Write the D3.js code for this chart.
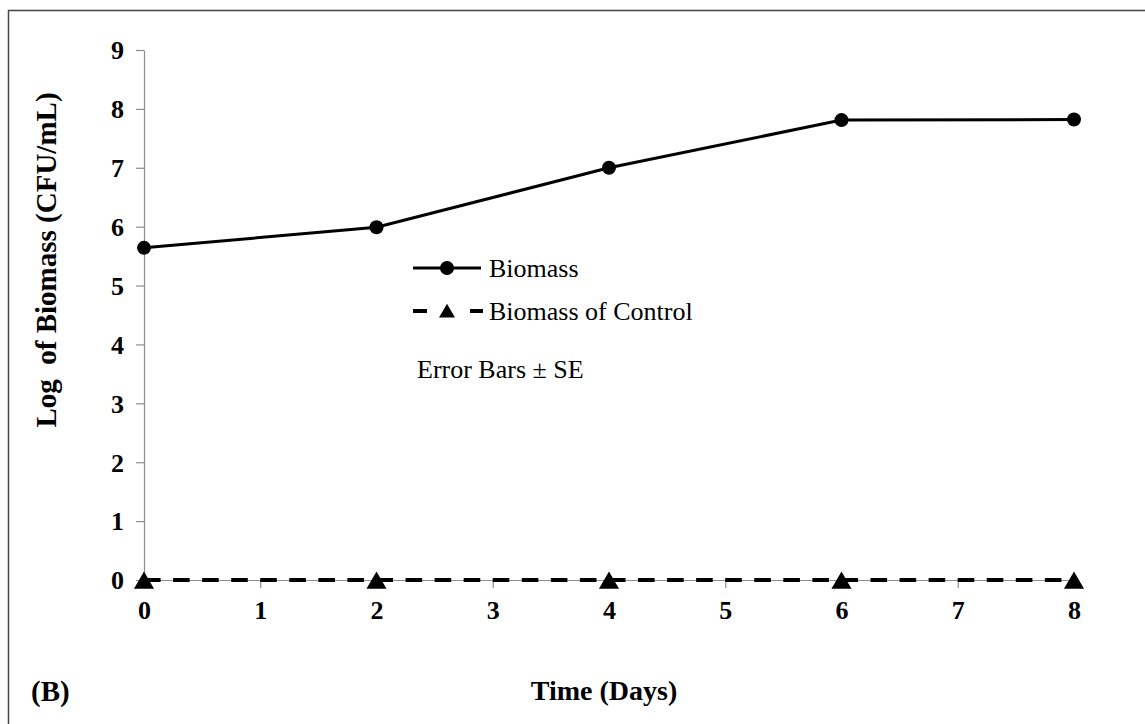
<!DOCTYPE html>
<html>
<head>
<meta charset="utf-8">
<script src="https://cdn.jsdelivr.net/npm/d3@7/dist/d3.min.js"></script>
<style>
  html, body { margin: 0; padding: 0; background: #fff; }
  svg { display: block; font-family: "Liberation Serif", "Times New Roman", serif; }
  svg text { font-family: "Liberation Serif", "Times New Roman", serif; fill: #000; }
</style>
</head>
<body>
<svg id="chart" width="1145" height="724"></svg>
<script>
// Sampling days and log biomass values (CFU/mL)
const days = [0, 2, 4, 6, 8];
const biomass = [5.64, 5.99, 7.0, 7.81, 7.82];
const biomassControl = [0, 0, 0, 0, 0];
const yTicks = [0, 1, 2, 3, 4, 5, 6, 7, 8, 9];
const xTicks = [0, 1, 2, 3, 4, 5, 6, 7, 8];
const seriesNames = ["Biomass", "Biomass of Control"];

const serif = "Liberation Serif, Times New Roman, serif";
const svg = d3.select("#chart");

// Outer frame (open at the right and bottom edges)
svg.append("rect")
  .attr("x", 8.5).attr("y", 10.5)
  .attr("width", 1160).attr("height", 740)
  .attr("fill", "none").attr("stroke", "#444").attr("stroke-width", 1.5);

const x = d3.scaleLinear().domain([0, 8]).range([144, 1074]);
const y = d3.scaleLinear().domain([0, 9]).range([580, 50]);

const axisColor = "#8c8c8c";

// Y axis
const yAxis = svg.append("g")
  .attr("transform", `translate(${x(0)},0)`)
  .call(d3.axisLeft(y).tickValues(yTicks).tickSize(8).tickSizeOuter(0).tickPadding(12));
yAxis.attr("font-family", serif);
yAxis.select(".domain").attr("stroke", axisColor).attr("stroke-width", 1.2);
yAxis.selectAll(".tick line").attr("stroke", axisColor).attr("stroke-width", 1.2);
yAxis.selectAll(".tick text")
  .attr("font-size", 26).attr("font-weight", "bold").attr("fill", "#000")
  .attr("dy", "0.34em");

// X axis
const xAxis = svg.append("g")
  .attr("transform", `translate(0,${y(0)})`)
  .call(d3.axisBottom(x).tickValues(xTicks).tickSize(8).tickSizeOuter(0).tickPadding(13));
xAxis.attr("font-family", serif);
xAxis.select(".domain").attr("stroke", axisColor).attr("stroke-width", 1.2);
xAxis.selectAll(".tick line").attr("stroke", axisColor).attr("stroke-width", 1.2);
xAxis.selectAll(".tick text")
  .attr("font-size", 26).attr("font-weight", "bold").attr("fill", "#000");

// Axis titles
svg.append("text")
  .attr("transform", `translate(56,260) rotate(-90)`)
  .attr("text-anchor", "middle")
  .attr("font-family", serif)
  .attr("font-size", 29).attr("font-weight", "bold")
  .attr("xml:space", "preserve")
  .text("Log  of Biomass (CFU/mL)");

svg.append("text")
  .attr("x", 604).attr("y", 700)
  .attr("text-anchor", "middle")
  .attr("font-family", serif)
  .attr("font-size", 28).attr("font-weight", "bold")
  .text("Time (Days)");

svg.append("text")
  .attr("x", 31).attr("y", 701)
  .attr("font-family", serif)
  .attr("font-size", 29).attr("font-weight", "bold")
  .text("(B)");

// Series lines
const line = d3.line().x(d => x(d[0])).y(d => y(d[1]));
const biomassPts = days.map((d, i) => [d, biomass[i]]);
const controlPts = days.map((d, i) => [d, biomassControl[i]]);

svg.append("path")
  .datum(controlPts)
  .attr("d", line)
  .attr("fill", "none").attr("stroke", "#000")
  .attr("stroke-width", 4).attr("stroke-dasharray", "16.6,12.46");

svg.append("path")
  .datum(biomassPts)
  .attr("d", line)
  .attr("fill", "none").attr("stroke", "#000").attr("stroke-width", 3);

// Markers
svg.selectAll("circle.bio")
  .data(biomassPts).enter().append("circle")
  .attr("class", "bio")
  .attr("cx", d => x(d[0])).attr("cy", d => y(d[1]))
  .attr("r", 7).attr("fill", "#000");

const tri = d3.symbol().type(d3.symbolTriangle).size(175);
svg.selectAll("path.ctrl")
  .data(controlPts).enter().append("path")
  .attr("class", "ctrl")
  .attr("transform", d => `translate(${x(d[0])},${y(d[1]) + 3})`)
  .attr("d", tri).attr("fill", "#000");

// Legend
const lg = svg.append("g").attr("transform", "translate(413,268)");
lg.append("line").attr("x1", 0).attr("x2", 68).attr("y1", 0).attr("y2", 0)
  .attr("stroke", "#000").attr("stroke-width", 3);
lg.append("circle").attr("cx", 34).attr("cy", 0).attr("r", 7).attr("fill", "#000");
lg.append("text").attr("x", 76).attr("y", 9)
  .attr("font-family", serif).attr("font-size", 26).text(seriesNames[0]);

const lg2 = svg.append("g").attr("transform", "translate(413,311)");
lg2.append("line").attr("x1", 0).attr("x2", 14).attr("y1", 0).attr("y2", 0)
  .attr("stroke", "#000").attr("stroke-width", 4);
lg2.append("line").attr("x1", 57).attr("x2", 70).attr("y1", 0).attr("y2", 0)
  .attr("stroke", "#000").attr("stroke-width", 4);
lg2.append("path").attr("transform", "translate(34,2)")
  .attr("d", d3.symbol().type(d3.symbolTriangle).size(110)).attr("fill", "#000");
lg2.append("text").attr("x", 76).attr("y", 9)
  .attr("font-family", serif).attr("font-size", 26).text(seriesNames[1]);

svg.append("text").attr("x", 417).attr("y", 378)
  .attr("font-family", serif).attr("font-size", 26)
  .text("Error Bars \u00B1 SE");
</script>
</body>
</html>
